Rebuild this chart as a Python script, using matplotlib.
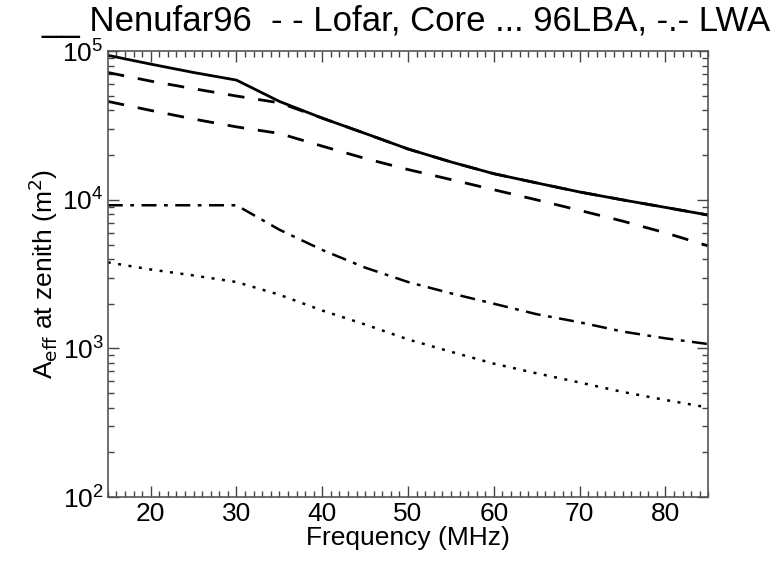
import numpy as np
import matplotlib
matplotlib.use("Agg")
import matplotlib.pyplot as plt
from matplotlib.ticker import MultipleLocator, LogLocator, NullFormatter

plt.rcParams['font.family'] = ['Liberation Sans', 'DejaVu Sans']

# frequencies (MHz)
freq = [15, 20, 25, 30, 35, 40, 45, 50, 55, 60, 65, 70, 75, 80, 85]
# effective area at zenith (m^2)
nenufar96 = [9.4e4, 8.2e4, 7.2e4, 6.4e4, 4.6e4, 3.55e4, 2.8e4, 2.2e4, 1.8e4, 1.5e4,
             1.3e4, 1.13e4, 1.0e4, 8.9e3, 7.9e3]
lofar = [7.2e4, 6.3e4, 5.6e4, 5.0e4, 4.5e4, 3.55e4, 2.8e4, 2.2e4, 1.8e4, 1.5e4,
         1.3e4, 1.13e4, 1.0e4, 8.9e3, 7.9e3]
lofar_low = [4.6e4, 4.0e4, 3.5e4, 3.1e4, 2.8e4, 2.3e4, 1.9e4, 1.6e4, 1.37e4, 1.17e4,
             1.0e4, 8.5e3, 7.2e3, 6.0e3, 4.9e3]
core96lba = [3.8e3, 3.4e3, 3.1e3, 2.8e3, 2.3e3, 1.8e3, 1.45e3, 1.15e3, 9.5e2, 7.9e2,
             6.8e2, 5.9e2, 5.1e2, 4.5e2, 4.0e2]
lwa = [9.2e3, 9.2e3, 9.2e3, 9.2e3, 6.3e3, 4.6e3, 3.5e3, 2.8e3, 2.35e3, 2.0e3,
       1.7e3, 1.5e3, 1.3e3, 1.17e3, 1.07e3]

fig = plt.figure(figsize=(7.81, 5.70), dpi=100)
ax = fig.add_axes([0.138, 0.128, 0.769, 0.782])

ax.plot(freq, nenufar96, color='black', lw=2, ls='-')
ax.plot(freq, lofar, color='black', lw=2, ls=(0, (6, 5)))
ax.plot(freq, lofar_low, color='black', lw=2, ls=(0, (6, 5)))
ax.plot(freq, lwa, color='black', lw=1.8, ls=(0, (6, 3, 1.5, 3)))
ax.plot(freq, core96lba, color='black', lw=1.8, ls=(0, (1.2, 3)))

ax.set_yscale('log')
ax.set_xlim(15, 85)
ax.set_ylim(1e2, 1e5)
ax.xaxis.set_major_locator(MultipleLocator(10))
ax.xaxis.set_minor_locator(MultipleLocator(1))
ax.yaxis.set_major_locator(LogLocator(base=10))
ax.yaxis.set_minor_locator(LogLocator(base=10, subs=np.arange(2, 10)))
ax.yaxis.set_minor_formatter(NullFormatter())

ax.tick_params(which='both', direction='in', top=True, right=True, labelsize=19, color='#444444')
ax.tick_params(which='major', length=8, width=1)
ax.tick_params(which='minor', length=4, width=1)
ax.tick_params(axis='y', which='major', pad=3)
for s in ax.spines.values():
    s.set_color('#555555')
    s.set_linewidth(1.2)

ax.set_xlabel('Frequency (MHz)', fontsize=19, labelpad=0)
ax.set_ylabel(r'A$_{\rm eff}$ at zenith (m$^2$)', fontsize=19, labelpad=2)

fig.text(0.053, 0.945, '__ Nenufar96  - - Lofar, Core ... 96LBA, -.- LWA', fontsize=25,
         ha='left', va='baseline')

fig.savefig('out.png', dpi=100)
